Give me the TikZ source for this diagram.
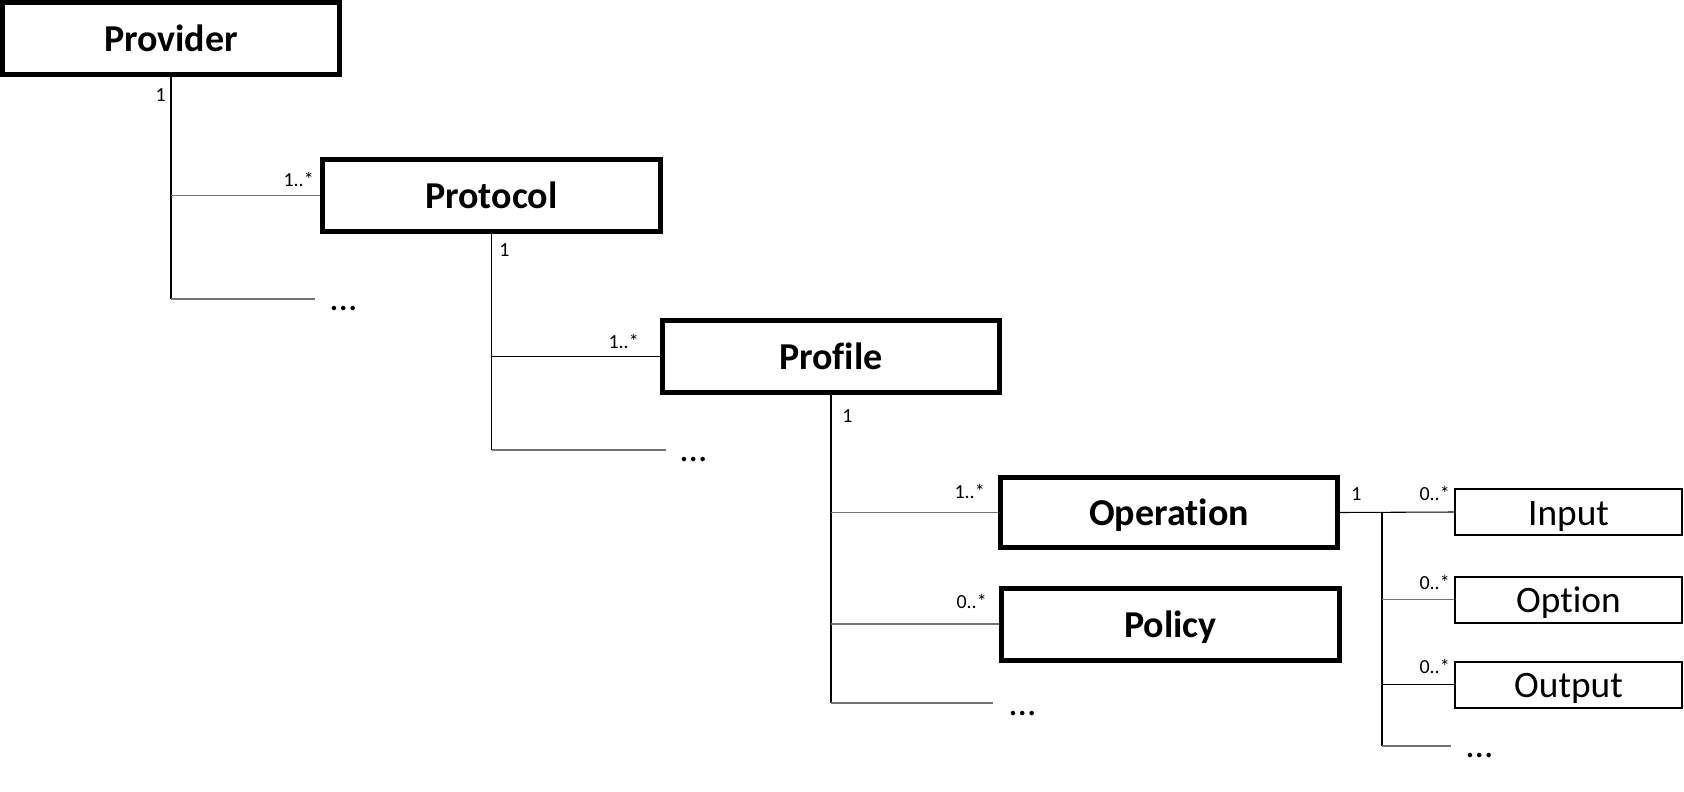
\documentclass[tikz,border=0pt]{standalone}
\usepackage{fontspec}
\setmainfont{Carlito}[Ligatures=NoCommon]
\begin{document}
\begin{tikzpicture}[x=0.75pt,y=-0.75pt,
  bigbox/.style={draw=black,line width=3.75pt,inner sep=0pt,minimum height=54pt,
    text height=22.5pt,text depth=2.5pt,font=\fontsize{28.5}{33}\selectfont\bfseries},
  smallbox/.style={draw=black,line width=1.5pt,inner sep=0pt,minimum width=170.25pt,minimum height=34.5pt,
    text height=22.5pt,text depth=2.5pt,font=\fontsize{28}{33}\selectfont},
  mult/.style={inner sep=0pt,font=\fontsize{15}{17}\selectfont},
  dots/.style={inner sep=0pt,anchor=base west,font=\fontsize{28}{33}\selectfont},
  vline/.style={draw=black,line width=0.8pt},
  hblack/.style={draw=black,line width=0.8pt},
  hgray/.style={draw=black!55,line width=1pt}]
\useasboundingbox (0,0) rectangle (1684,792);

% boxes
\node[bigbox,minimum width=252.75pt] (provider) at (171,38.5) {Provider};
\node[bigbox,minimum width=253.5pt] (protocol) at (491.5,195.5) {Protocol};
\node[bigbox,minimum width=252.75pt] (profile) at (831,356.5) {Profile};
\node[bigbox,minimum width=252.75pt,minimum height=52.5pt] (operation) at (1169,512.5) {Operation};
\node[bigbox,minimum width=253.5pt] (policy) at (1170.5,624) {Policy};
\node[smallbox] (input) at (1568.5,512) {Input};
\node[smallbox] (option) at (1568.5,599.5) {Option};
\node[smallbox] (output) at (1568.5,684.5) {Output};

% ellipsis ends
\coordinate (e1) at (315,299);
\coordinate (e2) at (666,450);
\coordinate (e3) at (993,703);
\coordinate (e4) at (1451,746);
\node[dots] (d1) at (329,310) {...};
\node[dots] (d2) at (679,461) {...};
\node[dots] (d3) at (1008,715) {...};
\node[dots] (d4) at (1465,757) {...};

% Provider tree
\draw[vline] (provider.south) -- (provider.south |- e1);
\draw[hgray] (provider.south |- protocol.west) -- (protocol.west);
\draw[hgray] (provider.south |- e1) -- (e1);

% Protocol tree
\draw[vline] (protocol.south) -- (protocol.south |- e2);
\draw[hblack] (protocol.south |- profile.west) -- (profile.west);
\draw[hgray] (protocol.south |- e2) -- (e2);

% Profile tree
\draw[vline] (profile.south) -- (profile.south |- e3);
\draw[hgray] (profile.south |- operation.west) -- (operation.west);
\draw[hgray] (profile.south |- policy.west) -- (policy.west);
\draw[hgray] (profile.south |- e3) -- (e3);

% Operation tree
\coordinate (b4) at (1382,512);
\draw[hblack] (operation.east) -- (input.west);
\draw[vline] (b4) -- (b4 |- e4);
\draw[hgray] (b4 |- option.west) -- (option.west);
\draw[hblack] (b4 |- output.west) -- (output.west);
\draw[hgray] (b4 |- e4) -- (e4);

% multiplicities
\node[mult,anchor=base east] (m1) at (166,101) {1};
\node[mult,anchor=base east] (m2) at (314,186) {1..*};
\node[mult,anchor=base west] (m3) at (499,256) {1};
\node[mult,anchor=base east] (m4) at (639,348) {1..*};
\node[mult,anchor=base west] (m5) at (842,422) {1};
\node[mult,anchor=base east] (m6) at (985,498) {1..*};
\node[mult,anchor=base east] (m7) at (987,608) {0..*};
\node[mult,anchor=base west] (m8) at (1351,500) {1};
\node[mult,anchor=base east] (m9) at (1450,500) {0..*};
\node[mult,anchor=base east] (m10) at (1450,589) {0..*};
\node[mult,anchor=base east] (m11) at (1450,673) {0..*};
\end{tikzpicture}
\end{document}
